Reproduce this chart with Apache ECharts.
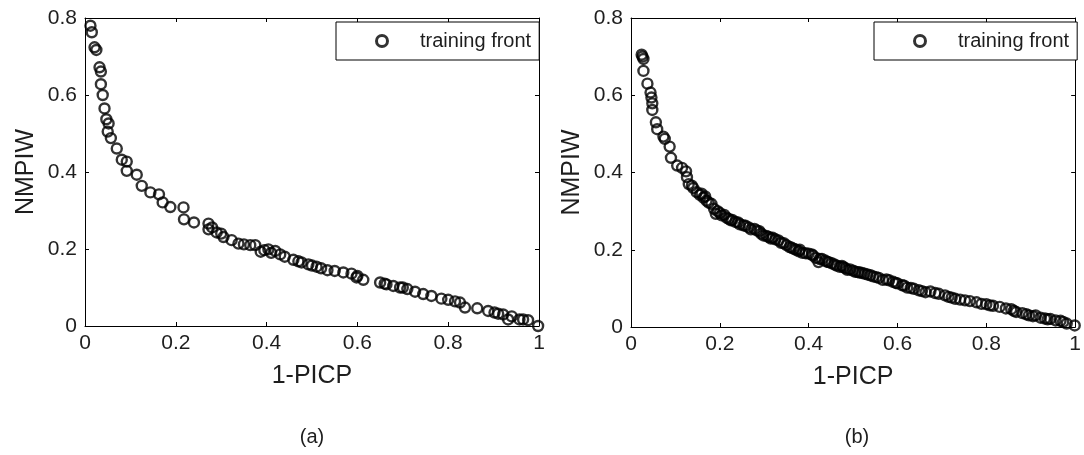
<!DOCTYPE html>
<html>
<head>
<meta charset="utf-8">
<script src="https://cdn.jsdelivr.net/npm/echarts@6/dist/echarts.min.js"></script>
<style>
  html, body { margin: 0; padding: 0; background: #fff; }
  #chart { width: 1084px; height: 455px; }
</style>
</head>
<body>
<div id="chart"></div>
<script>
// Pareto fronts: interval width (NMPIW) versus miss rate (1-PICP)
const seriesName = 'training front';

// (a) training front
const xA = [0.012,0.015,0.021,0.025,0.032,0.035,0.035,0.039,0.043,0.047,
  0.052,0.050,0.057,0.070,0.081,0.092,0.092,0.114,0.125,0.144,
  0.163,0.171,0.188,0.217,0.218,0.240,0.272,0.272,0.280,0.290,
  0.300,0.305,0.323,0.338,0.350,0.364,0.375,0.387,0.395,0.404,
  0.410,0.419,0.430,0.440,0.459,0.470,0.477,0.492,0.500,0.510,
  0.520,0.534,0.550,0.569,0.587,0.598,0.600,0.613,0.650,0.660,
  0.664,0.679,0.694,0.700,0.710,0.727,0.745,0.763,0.785,0.800,
  0.815,0.826,0.837,0.864,0.888,0.902,0.910,0.921,0.932,0.940,
  0.957,0.965,0.976,0.998];
const yA = [0.780,0.763,0.724,0.717,0.672,0.661,0.628,0.600,0.565,0.537,
  0.526,0.505,0.488,0.461,0.432,0.427,0.403,0.393,0.364,0.347,
  0.342,0.321,0.309,0.308,0.277,0.269,0.266,0.251,0.256,0.243,
  0.240,0.231,0.223,0.214,0.212,0.210,0.210,0.193,0.197,0.199,
  0.190,0.195,0.186,0.180,0.172,0.168,0.165,0.160,0.157,0.154,
  0.150,0.145,0.143,0.139,0.136,0.126,0.130,0.120,0.113,0.110,
  0.108,0.104,0.100,0.100,0.096,0.089,0.083,0.078,0.071,0.068,
  0.064,0.061,0.048,0.046,0.039,0.035,0.032,0.030,0.017,0.025,
  0.017,0.017,0.015,0.000];

// (b) training front
const xB = [0.024,0.026,0.028,0.028,0.037,0.044,0.046,0.048,0.048,0.056,
  0.059,0.073,0.076,0.087,0.090,0.104,0.115,0.124,0.126,0.130,
  0.137,0.148,0.159,0.167,0.170,0.181,0.187,0.191,0.204,0.210,
  0.215,0.228,0.235,0.241,0.253,0.265,0.278,0.289,0.298,0.310,
  0.319,0.332,0.344,0.350,0.357,0.367,0.378,0.380,0.393,0.400,
  0.407,0.416,0.422,0.430,0.437,0.445,0.452,0.463,0.470,0.478,
  0.487,0.500,0.511,0.520,0.526,0.539,0.545,0.552,0.567,0.581,
  0.590,0.596,0.611,0.622,0.637,0.648,0.663,0.674,0.693,0.707,
  0.715,0.730,0.741,0.763,0.778,0.789,0.800,0.815,0.830,0.844,
  0.856,0.867,0.881,0.896,0.911,0.922,0.932,0.944,0.956,0.967,
  0.981,0.999,
  0.140,0.155,0.163,0.175,0.195,0.200,0.220,0.225,0.245,0.258,
  0.270,0.283,0.293,0.305,0.315,0.325,0.338,0.362,0.372,0.386,
  0.410,0.425,0.441,0.458,0.475,0.483,0.493,0.505,0.515,0.532,
  0.558,0.575,0.600,0.615,0.630,0.655,0.685,0.722,0.752,0.808,
  0.862,0.890,0.905,0.938,0.973];
const yB = [0.705,0.700,0.694,0.663,0.630,0.607,0.594,0.579,0.562,0.530,
  0.512,0.493,0.487,0.467,0.438,0.418,0.412,0.403,0.388,0.370,
  0.366,0.349,0.345,0.338,0.327,0.319,0.306,0.293,0.289,0.290,
  0.283,0.277,0.272,0.271,0.263,0.258,0.254,0.248,0.237,0.233,
  0.231,0.224,0.217,0.212,0.207,0.202,0.196,0.200,0.191,0.190,
  0.188,0.179,0.168,0.176,0.172,0.168,0.165,0.159,0.156,0.155,
  0.148,0.146,0.142,0.140,0.138,0.134,0.131,0.129,0.122,0.121,
  0.117,0.114,0.108,0.102,0.099,0.095,0.090,0.092,0.086,0.082,
  0.078,0.073,0.071,0.067,0.064,0.060,0.059,0.055,0.052,0.048,
  0.046,0.039,0.036,0.030,0.030,0.024,0.022,0.021,0.017,0.016,
  0.009,0.004,
  0.360,0.342,0.335,0.322,0.300,0.295,0.280,0.276,0.266,0.262,
  0.253,0.250,0.242,0.236,0.229,0.227,0.218,0.205,0.200,0.192,
  0.185,0.176,0.169,0.162,0.158,0.152,0.149,0.143,0.141,0.136,
  0.127,0.123,0.113,0.107,0.101,0.093,0.088,0.076,0.069,0.056,
  0.042,0.033,0.028,0.020,0.013];

// Axis ranges and tick spacing
const xRange = [0, 1], xStep = 0.2;
const yRange = [0, 0.8], yStep = 0.2;
const xTitle = '1-PICP', yTitle = 'NMPIW';
const panelLabels = ['(a)', '(b)'];

const FONT = '"Liberation Sans", Arial, Helvetica, sans-serif';
const INK = '#1e1e1e';

const zip = (xs, ys) => xs.map((x, i) => [x, ys[i]]);

const grids = [
  { left: 85, top: 18, width: 454, height: 308 },
  { left: 631, top: 18, width: 450, height: 309 }
];

const lineStyle = { color: '#000', width: 1 };

function xAxes(gi) {
  const base = {
    gridIndex: gi, type: 'value', min: xRange[0], max: xRange[1], interval: xStep,
    axisLine: { show: true, onZero: false, lineStyle },
    axisTick: { show: true, inside: true, length: 4, lineStyle },
    splitLine: { show: false }
  };
  return [
    Object.assign({}, base, {
      position: 'bottom', name: xTitle, nameLocation: 'middle', nameGap: 38,
      nameTextStyle: { fontSize: 25, color: INK, fontFamily: FONT },
      axisLabel: { fontSize: 21, color: INK, fontFamily: FONT, margin: 7 }
    }),
    Object.assign({}, base, { position: 'top', axisLabel: { show: false } })
  ];
}

function yAxes(gi) {
  const base = {
    gridIndex: gi, type: 'value', min: yRange[0], max: yRange[1], interval: yStep,
    axisLine: { show: true, onZero: false, lineStyle },
    axisTick: { show: true, inside: true, length: 4, lineStyle },
    splitLine: { show: false }
  };
  return [
    Object.assign({}, base, {
      position: 'left', name: yTitle, nameLocation: 'middle', nameGap: 46, nameRotate: 90,
      nameTextStyle: { fontSize: 25, color: INK, fontFamily: FONT },
      axisLabel: { fontSize: 21, color: INK, fontFamily: FONT, margin: 8 }
    }),
    Object.assign({}, base, { position: 'right', axisLabel: { show: false } })
  ];
}

function legendAt(left) {
  return {
    data: [seriesName], left: left, top: 22, orient: 'horizontal',
    padding: [9, 8, 9, 39], itemWidth: 66, itemHeight: 11, itemGap: 0,
    borderColor: '#000', borderWidth: 1, backgroundColor: '#fff',
    selectedMode: false, icon: 'circle',
    itemStyle: { color: 'rgba(0,0,0,0)', borderColor: '#000', borderWidth: 3 },
    textStyle: { fontSize: 20, color: INK, fontFamily: FONT }
  };
}

function front(idx, data) {
  return {
    type: 'scatter', name: seriesName, xAxisIndex: idx * 2, yAxisIndex: idx * 2,
    data: data, symbol: 'circle', symbolSize: 10, clip: false, silent: true,
    itemStyle: { color: 'rgba(0,0,0,0)', borderColor: '#000', borderWidth: 2.4 }
  };
}

const chart = echarts.init(document.getElementById('chart'), null, { renderer: 'canvas' });
chart.setOption({
  animation: false,
  backgroundColor: '#fff',
  grid: grids,
  xAxis: xAxes(0).concat(xAxes(1)),
  yAxis: yAxes(0).concat(yAxes(1)),
  legend: [legendAt(336), legendAt(874)],
  graphic: [
    { type: 'text', x: 312, y: 437, style: { text: panelLabels[0], fontSize: 20, fill: INK, fontFamily: FONT, align: 'center', verticalAlign: 'middle' } },
    { type: 'text', x: 857, y: 437, style: { text: panelLabels[1], fontSize: 20, fill: INK, fontFamily: FONT, align: 'center', verticalAlign: 'middle' } }
  ],
  series: [front(0, zip(xA, yA)), front(1, zip(xB, yB))]
});
</script>
</body>
</html>
